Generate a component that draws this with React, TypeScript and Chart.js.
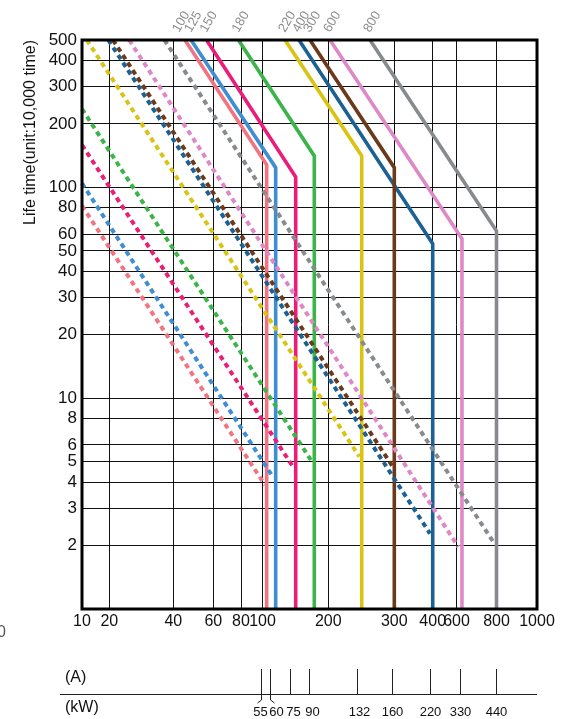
import React, { useEffect, useRef } from 'react';
import { Chart, registerables, Scale } from 'chart.js';

// ---------------- data ----------------
const X_TICKS = [10, 20, 40, 60, 80, 100, 200, 300, 400, 600, 800, 1000];
const Y_TICKS = [2, 3, 4, 5, 6, 8, 10, 20, 30, 40, 50, 60, 80, 100, 200, 300, 400, 500];
const LIFE_MIN = 1;
const LIFE_MAX = 500;

const RATINGS = ['100', '125', '150', '180', '220', '300', '400', '600', '800'];
// solid curve: starts at LIFE_MAX, knee, then vertical
const SOLID_START_A = [45.0, 47.9, 56.0, 77.9, 126.7, 164.9, 146.9, 202.1, 258.4];
const KNEE_A = [104.5, 114.9, 141.9, 172.6, 245.6, 300, 400, 624, 800];
const KNEE_LIFE = [128, 124, 112, 141, 141, 124, 54, 57, 62];
// dashed curve
const DASH_START_A = [10, 10, 10, 10, 11.3, 20.8, 19.5, 24.8, 36.3];
const DASH_START_LIFE = [81.8, 104.5, 158.8, 235.3, 500, 500, 500, 500, 500];
const DASH_END_A = [102.7, 110.2, 139.4, 169.7, 242.0, 297.1, 392.0, 607.8, 781.8];
const DASH_END_LIFE = [3.87, 4.32, 4.65, 4.94, 5.28, 4.73, 2.28, 1.97, 2.08];

// kW table (tick placed at current value in A)
const KW_LABELS = ['55', '60', '75', '90', '132', '160', '220', '330', '440'];
const KW_AT_A = [98.1, 107.9, 133.6, 162.7, 239.0, 295.2, 392.9, 616.6, 797.1];

// ---------------- styles / layout ----------------
const COLORS = ['#f27482', '#3f8ed3', '#ea1e79', '#3bb54a', '#d9c414', '#6b3a1b', '#1b6193', '#de88c7', '#878b8e'];
// non-uniform axis layout: fraction of axis length at each x tick
const X_TICK_LAYOUT = [0, 0.06, 0.2007, 0.2886, 0.3495, 0.3967, 0.5413, 0.6864, 0.7708, 0.8231, 0.911, 1];
const FONT = '"Liberation Sans", Arial, sans-serif';

function toFraction(v: number): number {
  const t = X_TICKS, f = X_TICK_LAYOUT;
  let i = 0;
  while (i < t.length - 2 && v > t[i + 1]) i++;
  const r = Math.log(v / t[i]) / Math.log(t[i + 1] / t[i]);
  return f[i] + r * (f[i + 1] - f[i]);
}
function fromFraction(d: number): number {
  const t = X_TICKS, f = X_TICK_LAYOUT;
  let i = 0;
  while (i < f.length - 2 && d > f[i + 1]) i++;
  const r = (d - f[i]) / (f[i + 1] - f[i]);
  return t[i] * Math.pow(t[i + 1] / t[i], r);
}

class SegmentedLogScale extends Scale {
  static id = 'segmentedLog';
  static defaults = {};
  determineDataLimits() {
    (this as any).min = X_TICKS[0];
    (this as any).max = X_TICKS[X_TICKS.length - 1];
  }
  buildTicks() {
    return X_TICKS.map((value) => ({ value }));
  }
  getLabelForValue(value: number) {
    return String(value);
  }
  getPixelForValue(value: number) {
    return (this as any).getPixelForDecimal(toFraction(value));
  }
  getValueForPixel(pixel: number) {
    return fromFraction((this as any).getDecimalForPixel(pixel));
  }
}

Chart.register(...registerables, SegmentedLogScale as any);

const N = RATINGS.length;
const RATING_NUDGE = [-6, 0, 0, 0, 0, 0, 0, 0, 0];
const KW_NUDGE = [-1, 6, 3, 3, 2, 0, 0, 0, 0];

const framePlugin = {
  id: 'frame',
  afterDatasetsDraw(chart: any) {
    const { ctx, chartArea: a } = chart;
    ctx.save();
    ctx.strokeStyle = '#000';
    ctx.lineWidth = 3;
    ctx.strokeRect(a.left, a.top, a.right - a.left, a.bottom - a.top);
    ctx.restore();
  },
};

const annotPlugin = {
  id: 'annot',
  afterDraw(chart: any) {
    const { ctx, chartArea: a } = chart;
    const xs = chart.scales.x;
    ctx.save();
    // rating labels above the plot
    ctx.font = `13px ${FONT}`;
    ctx.fillStyle = '#8e8e8e';
    ctx.textAlign = 'left';
    ctx.textBaseline = 'alphabetic';
    for (let i = 0; i < N; i++) {
      const pt = chart.getDatasetMeta(N + i).data[0];
      ctx.save();
      ctx.translate(pt.x + RATING_NUDGE[i], a.top - 7);
      ctx.rotate(-Math.PI / 3);
      ctx.fillText(RATINGS[i], 0, 0);
      ctx.restore();
    }
    // table
    const lineY = 694;
    ctx.strokeStyle = '#222';
    ctx.lineWidth = 1;
    ctx.beginPath();
    ctx.moveTo(60, lineY + 0.5);
    ctx.lineTo(a.right, lineY + 0.5);
    ctx.stroke();
    ctx.fillStyle = '#111';
    ctx.font = `16px ${FONT}`;
    ctx.textBaseline = 'middle';
    ctx.textAlign = 'left';
    ctx.fillText('(A)', 65, 678);
    ctx.fillText('(kW)', 65, 708);
    ctx.font = `13px ${FONT}`;
    ctx.textAlign = 'center';
    for (let i = 0; i < KW_LABELS.length; i++) {
      const px = Math.round(xs.getPixelForValue(KW_AT_A[i])) + 0.5;
      ctx.beginPath();
      ctx.moveTo(px, 669);
      ctx.lineTo(px, lineY);
      if (i < 2) {
        ctx.lineTo(px, 700);
        ctx.lineTo(px + (i === 0 ? -4 : 4), 703);
      }
      ctx.stroke();
      ctx.fillText(KW_LABELS[i], px + KW_NUDGE[i], 712);
    }
    // stray clipped label at far left
    ctx.font = `16px ${FONT}`;
    ctx.textAlign = 'left';
    ctx.textBaseline = 'alphabetic';
    ctx.fillStyle = '#555';
    ctx.fillText('0', -3, 637);
    ctx.restore();
  },
};

export default function App() {
  const ref = useRef<HTMLCanvasElement | null>(null);
  useEffect(() => {
    if (!ref.current) return;
    const dashed = RATINGS.map((r, i) => ({
      label: r + ' dashed',
      data: [
        { x: DASH_START_A[i], y: DASH_START_LIFE[i] },
        { x: DASH_END_A[i], y: DASH_END_LIFE[i] },
      ],
      borderColor: COLORS[i],
      borderWidth: 4,
      borderDash: [5, 4],
      borderCapStyle: 'butt',
      pointRadius: 0,
      fill: false,
      tension: 0,
    }));
    const solid = RATINGS.map((r, i) => ({
      label: r,
      data: [
        { x: SOLID_START_A[i], y: LIFE_MAX },
        { x: KNEE_A[i], y: KNEE_LIFE[i] },
        { x: KNEE_A[i], y: LIFE_MIN },
      ],
      borderColor: COLORS[i],
      borderWidth: 3.6,
      borderJoinStyle: 'miter',
      pointRadius: 0,
      fill: false,
      tension: 0,
    }));
    const chart = new Chart(ref.current, {
      type: 'line',
      data: { datasets: [...dashed, ...solid] as any },
      options: {
        animation: false,
        responsive: false,
        events: [],
        layout: { padding: { left: 0, right: 29, top: 40, bottom: 0 } },
        plugins: { legend: { display: false }, tooltip: { enabled: false } },
        scales: {
          x: {
            type: 'segmentedLog' as any,
            afterFit: (s: any) => {
              s.height = 110;
            },
            ticks: {
              autoSkip: false,
              maxRotation: 0,
              minRotation: 0,
              padding: 3,
              color: '#111',
              font: { family: FONT, size: 16 },
            },
            grid: { color: '#111', lineWidth: 1, drawTicks: false },
            border: { display: false },
          } as any,
          y: {
            type: 'logarithmic',
            min: LIFE_MIN,
            max: LIFE_MAX,
            afterBuildTicks: (s: any) => {
              s.ticks = Y_TICKS.map((v) => ({ value: v }));
            },
            afterFit: (s: any) => {
              s.width = 82;
            },
            ticks: {
              autoSkip: false,
              padding: 5,
              color: '#111',
              font: { family: FONT, size: 17 },
              callback: (v: any) => String(v),
            },
            grid: { color: '#111', lineWidth: 1, drawTicks: false },
            border: { display: false },
            title: {
              display: true,
              text: 'Life time(unit:10,000 time)',
              align: 'end',
              color: '#111',
              font: { family: FONT, size: 16 },
              padding: { top: 21, bottom: 0 },
            },
          } as any,
        },
      },
      plugins: [framePlugin, annotPlugin],
    });
    return () => chart.destroy();
  }, []);
  return (
    <div style={{ position: 'absolute', left: 0, top: 0, width: 566, height: 719 }}>
      <canvas ref={ref} width={566} height={719} style={{ display: 'block' }} />
    </div>
  );
}
